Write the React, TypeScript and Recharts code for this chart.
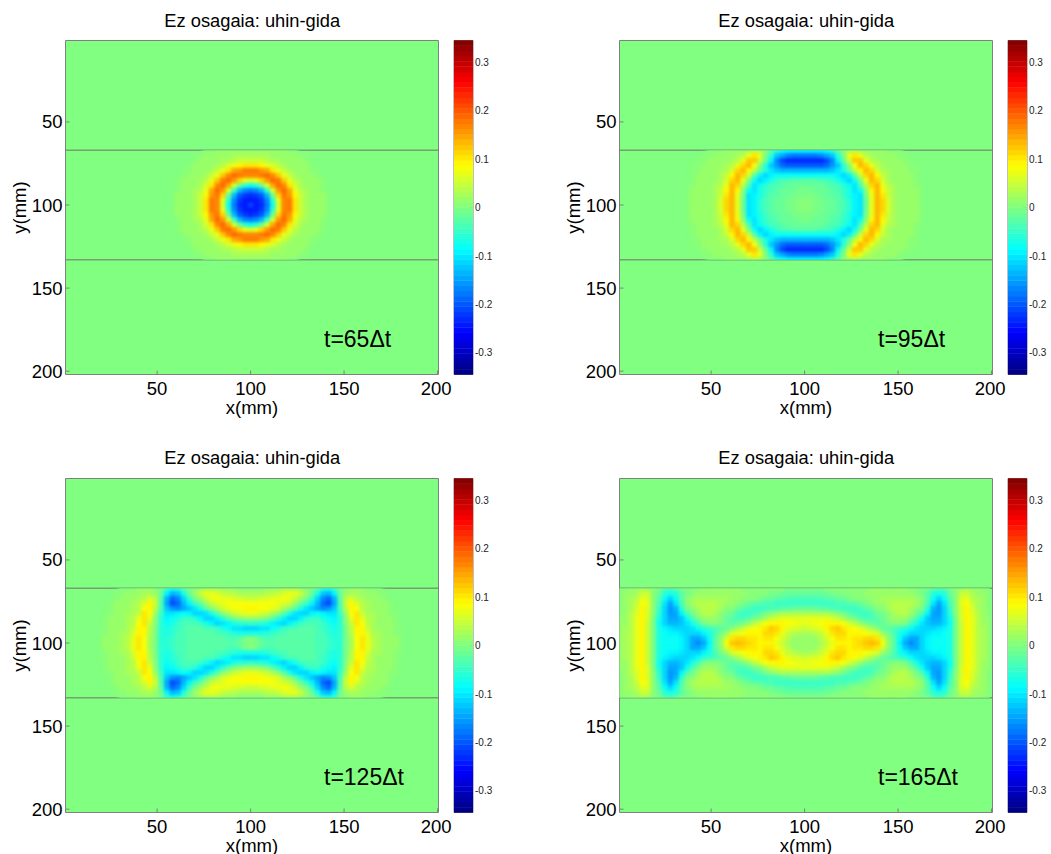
import { CartesianGrid, ReferenceLine, Scatter, ScatterChart, XAxis, YAxis } from "recharts";

// field values in units of 0.01, one quarter of the symmetric pattern
// rows go 0,3,6..33 mm away from y=100, columns 0,3,6.. mm away from x=100
const field65 = [
  [-21, -24, -23, -18, -8, 6, 17, 18, 10, 5, 2.5, 1.6, 1.3, 1.1, 0.9],
  [-24, -24, -22, -17, -6, 7, 17, 18, 10, 5, 2.5, 1.6, 1.3, 1.1, 0.9],
  [-23, -22, -20, -13, -2, 11, 17.5, 16, 9, 4.5, 2.3, 1.6, 1.3, 1.1, 0.7],
  [-18, -17, -13, -5, 6, 16, 18.5, 14, 7.5, 4, 2.2, 1.5, 1.2, 1],
  [-8, -6, -2, 6, 15, 18.5, 17, 10, 5.5, 3, 2, 1.4, 1.1, 1],
  [6, 7, 11, 16, 18.5, 18, 12, 7.5, 4, 2.3, 1.6, 1.3, 1.1, 0.9],
  [17, 17, 17.5, 18.5, 17, 12, 7.5, 4.5, 2.5, 1.7, 1.4, 1.2, 1],
  [18, 18, 16, 14, 10, 7.5, 4.5, 2.6, 1.9, 1.4, 1.2, 1, 0.9],
  [10, 10, 9, 7.5, 5.5, 4, 2.5, 1.9, 1.5, 1.3, 1.1, 1],
  [5, 5, 4.5, 4, 3, 2.3, 1.7, 1.5, 1.3, 1.1, 1],
  [2.5, 2.5, 2.3, 2.2, 2, 1.6, 1.4, 1.2, 1.1, 1, 0.7],
  [1.6, 1.6, 1.6, 1.5, 1.4, 1.3, 1.1, 1, 1],
];

const field95 = [
  [0.5, 0.3, -0.5, -1, -1.5, -2, -3, -4, -6, -9, -10, -2, 6.5, 13, 11, 5.5, 2.8, 1.8, 1.5, 1.3, 1.1, 0.9],
  [0.3, 0.1, -0.6, -1, -1.5, -2, -3, -4, -6, -9, -10, -2, 6.5, 13, 11, 5.5, 2.8, 1.8, 1.5, 1.3, 1.1, 0.9],
  [-0.5, -0.6, -0.9, -1.3, -1.7, -2.3, -3.2, -4.5, -6.5, -9.5, -10, -1, 7.5, 13.5, 10.5, 5, 2.6, 1.7, 1.5, 1.3, 1.1, 0.9],
  [-1, -1, -1.3, -1.6, -2, -2.8, -3.5, -5, -7, -10, -8, 1, 9.5, 13.5, 9, 4.5, 2.5, 1.7, 1.5, 1.3, 1.1, 0.8],
  [-1.5, -1.5, -1.7, -2, -2.7, -3.3, -4.3, -6, -8.5, -10.5, -4, 4, 11.5, 13, 7.5, 3.5, 2.3, 1.7, 1.4, 1.2, 1, 0.6],
  [-2.5, -2.5, -3, -3.5, -4, -5, -6.5, -9, -11, -8, -1, 7.5, 13.5, 11.5, 6, 3, 2, 1.6, 1.4, 1.1, 1],
  [-8, -8, -8, -8, -8, -8, -9.5, -11, -9, -3, 5, 11.5, 13, 9, 4.5, 2.6, 1.8, 1.5, 1.3, 1.1, 0.8],
  [-13, -13, -13, -13, -13, -12, -10.5, -7, -2, 4, 9.5, 13, 11, 6, 3.2, 2.2, 1.7, 1.4, 1.2, 1, 0.7],
  [-20, -20, -20, -20, -19, -16, -12, -6, 0, 8, 13, 11, 7, 4, 2.6, 2, 1.6, 1.4, 1.2, 1, 0.6],
  [-23, -23, -23, -23, -21, -17, -9, -2, 5, 12, 12, 7, 4, 2.6, 2, 1.6, 1.4, 1.2, 1, 0.8],
  [-18, -18, -18, -17, -15, -12, -6, -1, 7, 10, 7, 4, 2.6, 2, 1.6, 1.4, 1.2, 1, 0.8],
  [-9, -9, -9, -9, -8, -6, -3, 0, 3, 4, 3, 2, 1.6, 1.4, 1.2, 1, 0.9, 0.7],
];

const field125 = [
  [1, -0.5, -2, -2.5, -3, -3, -3, -3, -3, -3, -3, -3, -3.5, -4, -5, -6, -6, -1, 3, 8, 10, 7, 3.5, 2.3, 1.7, 1.4, 1.1, 0.9],
  [0, -1, -2.5, -3.5, -3.5, -3.2, -3, -3, -3, -3, -3, -3, -3.5, -4, -5, -6, -6, -1, 3, 8, 10, 7, 3.5, 2.3, 1.7, 1.4, 1.1, 0.9],
  [-7, -7, -6.5, -6, -5, -4, -3.5, -3, -3, -3, -3, -3, -3.5, -4, -5.5, -6.5, -6, -1, 3.5, 9, 9.5, 6, 3.2, 2.2, 1.7, 1.4, 1, 0.8],
  [-11, -11, -10.5, -10, -8.5, -6.5, -5, -4, -3.5, -3, -3, -3, -3.5, -4.5, -6, -7, -6, -1, 4, 9.5, 9, 5, 3, 2.1, 1.6, 1.3, 1, 0.6],
  [-5, -5.5, -6, -7.5, -9, -10.5, -11, -9.5, -7, -5, -4, -3.5, -4, -5, -7, -8, -6, 0, 5, 10, 8, 4, 2.6, 2, 1.5, 1.2, 0.9],
  [2, 1.5, 0.5, -1, -3, -6, -9, -11, -11, -9, -6, -4.5, -5, -6.5, -8, -9, -6, 0.5, 7, 10, 6.5, 3.5, 2.4, 1.8, 1.5, 1.1, 0.7],
  [7, 7, 6, 5, 3, 0.5, -3, -7, -10, -11.5, -11, -9, -8, -9, -10.5, -10, -5, 2, 8, 10, 5, 3, 2.2, 1.7, 1.4, 1, 0.5],
  [9, 9, 8.5, 8, 7, 5.5, 3, 0, -3, -7, -10, -12, -14, -17, -16, -12, -4, 4, 9.5, 8, 4, 2.6, 2, 1.6, 1.2, 0.8],
  [8, 8, 8, 8, 8, 7.5, 6, 4.5, 2, -2, -5, -9, -13, -19, -21, -14, -4, 5, 9.5, 6, 3.5, 2.4, 1.8, 1.5, 1.1, 0.6],
  [5, 5, 5.5, 6, 7, 7.5, 8, 7, 5, 2, -1, -5, -11, -17, -19, -13, -3, 4, 6, 3.5, 2.6, 2, 1.6, 1.2, 0.9],
  [2.5, 2.5, 3, 3.5, 4, 5, 6, 7, 7, 5, 2, -2, -7, -12, -13, -9, -2, 2, 3, 2.5, 2, 1.6, 1.3, 1, 0.7],
  [1, 1, 1, 1.2, 1.5, 2, 2.5, 3, 3, 2, 0.5, -1, -3, -6, -7, -5, -1, 1, 1.5, 1.4, 1.2, 1, 0.9, 0.6],
];

const field165 = [
  [1.5, 1.5, 2, 3, 5, 7.5, 9, 9.5, 9.5, 10, 11, 12, 13, 12, 8, 2, -3, -9, -14, -17, -15, -11, -9, -8, -8, -8, -6.5, -1, 5, 9, 7, 4, 2.3, 1.3],
  [1.5, 1.5, 2, 3.5, 6, 8.5, 10, 10, 9.5, 10, 10.5, 11.5, 11.5, 10, 6, 1, -3, -8, -12, -15, -14, -11, -9, -8, -8, -8, -6.5, -1, 5, 9, 7, 4, 2.3, 1.3],
  [2.5, 3, 3.5, 5, 7.5, 10, 11.5, 11, 9.5, 9, 9, 8.5, 7.5, 5.5, 2, -1, -4, -7, -9, -11, -11.5, -11, -10, -9, -9, -8.5, -7, -1, 5, 9, 7, 4, 2.3, 1.3],
  [5, 5.5, 6, 7, 9, 11, 12, 10.5, 9, 8, 6.5, 4.5, 2.5, 0, -1.5, -2.5, -3.5, -4.5, -6, -8, -10, -11, -11, -11, -10.5, -9.5, -7.5, -1, 5, 9, 7, 3.8, 2.2, 1.3],
  [7.5, 7.5, 8, 8.5, 9, 9.5, 9, 8, 6, 3.5, 1.5, -0.5, -2, -2.5, -2, -1, 0, 0, -1, -4, -7, -10, -12, -13.5, -13, -11, -8, -1, 5, 9, 7, 3.7, 2.1, 1.2],
  [6.5, 6.5, 6.5, 6.5, 6.5, 6, 5, 3, 1, -1, -2.5, -3.5, -3.5, -3, -1.5, 0, 1.5, 2, 1.5, -1, -4, -8, -12, -15, -15, -11.5, -7, -0.5, 5.5, 9, 6.5, 3.5, 2, 1.1],
  [3, 3, 3, 3, 2.5, 2, 1, -1, -2.5, -3.5, -4.5, -4.5, -3.5, -2, -0.5, 1, 3, 3.8, 3.5, 2, -1, -4, -9, -15, -16, -11.5, -6, 0, 6, 9, 6, 3.3, 1.9, 1],
  [-2, -2, -2, -2.5, -3, -3.5, -4, -4.5, -5, -4.5, -4, -3, -1.5, 0, 1, 2.5, 3.5, 4, 4, 3, 1, -1, -6, -13, -16, -11, -5, 0.5, 6, 9, 5.5, 3, 1.8, 1],
  [-4.5, -4.5, -4.5, -4.5, -4.5, -4.5, -4, -3.5, -3, -2.5, -1.5, -0.5, 0.5, 1.5, 2, 3, 3.5, 4, 4, 3.5, 2.5, 0, -4, -10, -14, -10, -4, 1, 6.5, 8.5, 5, 2.8, 1.6, 0.9],
  [-4, -4, -3.5, -3.5, -3, -2.5, -2, -1.5, -1, 0, 0.5, 1, 1.5, 2, 2.2, 2.5, 2.8, 3, 3, 2.5, 1.5, 0, -3, -8, -11, -8, -3, 1, 6, 7.5, 4, 2.5, 1.5, 0.8],
  [-2, -2, -2, -1.5, -1.5, -1, -0.5, 0, 0.5, 0.8, 1, 1.2, 1.5, 1.6, 1.8, 1.9, 2, 2, 1.8, 1.5, 0.8, -0.5, -2.5, -5.5, -7.5, -5.5, -2, 1, 4.5, 4.5, 3, 2, 1.3, 0.7],
  [-0.5, -0.5, -0.5, -0.5, 0, 0, 0.2, 0.4, 0.6, 0.8, 1, 1, 1.2, 1.2, 1.3, 1.3, 1.3, 1.3, 1.2, 1, 0.5, -0.3, -1, -2.5, -3.5, -2.5, -1, 0.5, 2, 2.5, 1.8, 1.3, 0.9, 0.5],
];

const axisTicks = [50, 100, 150, 200];
const barTicks = [-0.3, -0.2, -0.1, 0, 0.1, 0.2, 0.3];
const barLevelsUpper = [
  0.00538, 0.01615, 0.02691, 0.03768, 0.04845, 0.05921, 0.06998, 0.08075, 0.09151, 0.10228, 0.11304,
  0.12381, 0.13458, 0.14534, 0.15611, 0.16688, 0.17764, 0.18841, 0.19918, 0.20994, 0.22071, 0.23147,
  0.24224, 0.25301, 0.26377, 0.27454, 0.28531, 0.29607, 0.30684, 0.31761, 0.32837, 0.33914,
];
const panels = [
  { field: field65, label: "65", left: 0, top: 0 },
  { field: field95, label: "95", left: 554, top: 0 },
  { field: field125, label: "125", left: 0, top: 437.5 },
  { field: field165, label: "165", left: 554, top: 437.5 },
];

const FONT = '"Liberation Sans", Arial, sans-serif';
const FRAME = "#808080";
const CLIM = 0.3445;
const PLOT_W = 373.5;
const PLOT_H = 334;
const CELL_W = (3 * PLOT_W) / 199.5;
const CELL_H = (3 * PLOT_H) / 201;

function jet(v: number) {
  const n = Math.min(63, Math.max(0, Math.floor(((v + CLIM) / (2 * CLIM)) * 64)));
  const t = (n + 0.5) / 64;
  const ch = (c: number) => Math.round(255 * Math.min(1, Math.max(0, 1.5 - Math.abs(4 * t - c))));
  return `rgb(${ch(3)},${ch(2)},${ch(1)})`;
}

function toCells(rows: number[][]) {
  const cells: { x: number; y: number; v: number }[] = [];
  rows.forEach((row, r) => {
    row.forEach((val, c) => {
      const xs = c === 0 ? [100] : [100 - c * 3, 100 + c * 3];
      const ys = r === 0 ? [100] : [100 - r * 3, 100 + r * 3];
      xs.forEach((x) => ys.forEach((y) => cells.push({ x, y, v: val / 100 })));
    });
  });
  return cells;
}

const HeatCell = (props: any) => (
  <rect
    x={props.cx - CELL_W / 2 - 0.3}
    y={props.cy - CELL_H / 2 - 0.3}
    width={CELL_W + 0.6}
    height={CELL_H + 0.6}
    fill={jet(props.payload.v)}
  />
);

const BarCell = (props: any) => (
  <rect x={props.cx - 9.5} y={props.cy - 2.8} width={19} height={5.6} fill={jet(props.payload.v)} />
);

function Heatmap({ field }: { field: number[][] }) {
  const cells = toCells(field);
  return (
    <ScatterChart width={450} height={419.5} margin={{ top: 39.5, left: 25.5, right: 10.5, bottom: 0 }}>
      <CartesianGrid horizontal={false} vertical={false} fill="#80ff80" fillOpacity={1} />
      <XAxis
        xAxisId="b"
        dataKey="x"
        type="number"
        domain={[1, 200.5]}
        allowDataOverflow
        ticks={axisTicks}
        height={45}
        stroke={FRAME}
        tickSize={-4}
        tickMargin={11}
        tick={{ fill: "#000", fontSize: 18.5, fontFamily: FONT }}
        label={{ value: "x(mm)", position: "insideBottom", offset: 6, fill: "#000", fontSize: 18.5, fontFamily: FONT }}
      />
      <XAxis xAxisId="t" orientation="top" type="number" domain={[1, 200.5]} allowDataOverflow ticks={axisTicks} height={1} stroke={FRAME} tick={false} tickSize={-4} />
      <YAxis
        yAxisId="l"
        dataKey="y"
        type="number"
        domain={[1, 202]}
        allowDataOverflow
        reversed
        ticks={axisTicks}
        width={40}
        stroke={FRAME}
        tickSize={-4}
        tickMargin={7}
        tick={{ fill: "#000", fontSize: 18.5, fontFamily: FONT }}
        label={{ value: "y(mm)", angle: -90, position: "insideLeft", offset: -6, fill: "#000", fontSize: 18.5, fontFamily: FONT, style: { textAnchor: "middle" } }}
      />
      <YAxis yAxisId="r" orientation="right" type="number" domain={[1, 202]} allowDataOverflow reversed ticks={axisTicks} width={1} stroke={FRAME} tick={false} tickSize={-4} />
      <Scatter className="heat" data={cells} xAxisId="b" yAxisId="l" shape={HeatCell} isAnimationActive={false} />
      <ReferenceLine xAxisId="b" yAxisId="l" y={67} stroke="#707070" strokeWidth={1} />
      <ReferenceLine xAxisId="b" yAxisId="l" y={133} stroke="#707070" strokeWidth={1} />
    </ScatterChart>
  );
}

function ColorBar() {
  const levels = [...barLevelsUpper].reverse().map((v) => -v).concat(barLevelsUpper);
  const data = levels.map((v) => ({ x: 0.5, y: v, v }));
  return (
    <ScatterChart width={70} height={375.5} margin={{ top: 39.5, left: 0, right: 49, bottom: 0 }}>
      <XAxis xAxisId="b" dataKey="x" type="number" domain={[0, 1]} ticks={[0, 1]} height={1} stroke={FRAME} tick={false} tickLine={false} />
      <XAxis xAxisId="t" orientation="top" type="number" domain={[0, 1]} ticks={[0, 1]} height={1} stroke={FRAME} tick={false} tickLine={false} />
      <YAxis yAxisId="l" type="number" domain={[-CLIM, CLIM]} ticks={barTicks} interval={0} width={1} stroke={FRAME} tick={false} tickSize={-4} />
      <YAxis
        yAxisId="r"
        dataKey="y"
        orientation="right"
        type="number"
        domain={[-CLIM, CLIM]}
        ticks={barTicks}
        width={1}
        stroke={FRAME}
        tickSize={-4}
        tickMargin={6}
        interval={0}
        tick={{ fill: "#222", fontSize: 10, fontFamily: FONT }}
      />
      <Scatter className="bar" data={data} xAxisId="b" yAxisId="r" shape={BarCell} isAnimationActive={false} />
    </ScatterChart>
  );
}

export default function App() {
  return (
    <div style={{ position: "absolute", left: 0, top: 0, width: 1051, height: 854, background: "#fff", overflow: "hidden" }}>
      <style>{`
        .heat { filter: blur(1.8px); clip-path: inset(2.8px 3px); }
        svg { overflow: visible; }
      `}</style>
      {panels.map((p) => (
        <div key={p.label} style={{ position: "absolute", left: p.left, top: p.top }}>
          <div style={{ position: "absolute", left: 65.5, width: 373.5, top: 10.5, textAlign: "center", fontFamily: FONT, fontSize: 18.3, lineHeight: "20px", color: "#000", whiteSpace: "nowrap" }}>
            Ez osagaia: uhin-gida
          </div>
          <div style={{ position: "absolute", left: 0, top: 0 }}>
            <Heatmap field={p.field} />
          </div>
          <div style={{ position: "absolute", left: 452.5, top: 0 }}>
            <ColorBar />
          </div>
          <div style={{ position: "absolute", left: 324, top: 325, fontFamily: FONT, fontSize: 23, lineHeight: "28px", color: "#000", whiteSpace: "nowrap", zIndex: 2 }}>
            t={p.label}Δt
          </div>
        </div>
      ))}
    </div>
  );
}
